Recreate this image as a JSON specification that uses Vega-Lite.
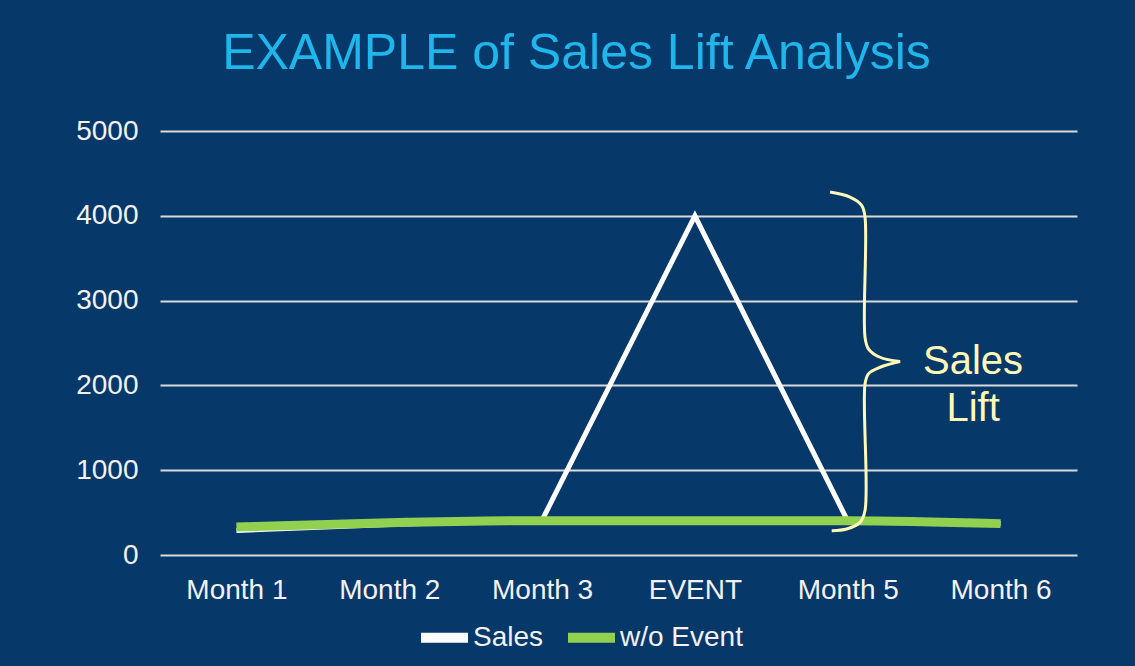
{
  "$schema": "https://vega.github.io/schema/vega-lite/v6.json",
  "width": 917,
  "height": 424,
  "autosize": {"type": "none"},
  "padding": {"left": 160, "top": 131, "right": 58, "bottom": 111},
  "background": "#07386a",
  "title": {
    "text": "EXAMPLE of Sales Lift Analysis",
    "color": "#1fb6ec",
    "fontSize": 50,
    "font": "Liberation Sans",
    "fontWeight": "normal",
    "anchor": "middle",
    "frame": "group",
    "offset": 38,
    "dx": -42
  },
  "config": {
    "view": {"stroke": null},
    "axis": {
      "labelFont": "Liberation Sans",
      "labelFontSize": 28,
      "labelColor": "#f2f2f2",
      "domain": false,
      "ticks": false,
      "tickSize": 0,
      "gridColor": "#d9d9d9",
      "gridWidth": 2
    }
  },
  "datasets": {
    "lines": [
      {"month": "Month 1", "series": "Sales", "value": 290},
      {"month": "Month 2", "series": "Sales", "value": 360},
      {"month": "Month 3", "series": "Sales", "value": 410},
      {"month": "EVENT", "series": "Sales", "value": 4000},
      {"month": "Month 5", "series": "Sales", "value": 400},
      {"month": "Month 6", "series": "Sales", "value": 370},
      {"month": "Month 1", "series": "w/o Event", "value": 330},
      {"month": "Month 2", "series": "w/o Event", "value": 380},
      {"month": "Month 3", "series": "w/o Event", "value": 405},
      {"month": "EVENT", "series": "w/o Event", "value": 405},
      {"month": "Month 5", "series": "w/o Event", "value": 405},
      {"month": "Month 6", "series": "w/o Event", "value": 370}
    ],
    "brace": [
      {"k": 1, "bx": 4.384, "value": 4280},
      {"k": 2, "bx": 4.515, "value": 4221},
      {"k": 3, "bx": 4.591, "value": 4123},
      {"k": 4, "bx": 4.613, "value": 3985},
      {"k": 5, "bx": 4.613, "value": 2568},
      {"k": 6, "bx": 4.635, "value": 2432},
      {"k": 7, "bx": 4.711, "value": 2332},
      {"k": 8, "bx": 4.842, "value": 2282},
      {"k": 9, "bx": 4.842, "value": 2282},
      {"k": 10, "bx": 4.711, "value": 2214},
      {"k": 11, "bx": 4.635, "value": 2136},
      {"k": 12, "bx": 4.613, "value": 2018},
      {"k": 13, "bx": 4.613, "value": 523},
      {"k": 14, "bx": 4.580, "value": 385},
      {"k": 15, "bx": 4.493, "value": 307},
      {"k": 16, "bx": 4.395, "value": 287}
    ],
    "note": [
      {"label": "Sales", "bx": 5.32, "value": 2140},
      {"label": "Lift", "bx": 5.32, "value": 1585}
    ]
  },
  "resolve": {"scale": {"x": "independent"}},
  "layer": [
    {
      "data": {"name": "lines"},
      "encoding": {
        "x": {
          "field": "month",
          "type": "nominal",
          "sort": ["Month 1", "Month 2", "Month 3", "EVENT", "Month 5", "Month 6"],
          "axis": {"title": null, "grid": false, "labelAngle": 0, "labelPadding": 21}
        },
        "y": {
          "field": "value",
          "type": "quantitative",
          "title": null,
          "scale": {"domain": [0, 5000]},
          "axis": {"grid": true, "values": [0, 1000, 2000, 3000, 4000, 5000], "format": "d", "labelPadding": 22}
        },
        "color": {
          "field": "series",
          "type": "nominal",
          "scale": {"domain": ["Sales", "w/o Event"], "range": ["#ffffff", "#92d050"]},
          "legend": {
            "orient": "none",
            "legendX": 256,
            "legendY": 478,
            "direction": "horizontal",
            "title": null,
            "symbolType": "stroke",
            "symbolSize": 2209,
            "symbolStrokeWidth": 10,
            "labelFontSize": 28,
            "labelColor": "#f2f2f2",
            "labelFont": "Liberation Sans",
            "labelOffset": 0,
            "columnPadding": 4
          }
        }
      },
      "layer": [
        {
          "transform": [{"filter": "datum.series === 'Sales'"}],
          "mark": {"type": "line", "strokeWidth": 5}
        },
        {
          "transform": [{"filter": "datum.series === 'w/o Event'"}],
          "mark": {"type": "line", "strokeWidth": 9, "interpolate": "monotone"}
        }
      ]
    },
    {
      "layer": [
        {
          "data": {"name": "brace"},
          "mark": {"type": "line", "interpolate": "catmull-rom", "color": "#fff9b8", "strokeWidth": 3},
          "encoding": {
            "x": {"field": "bx", "type": "quantitative", "scale": {"domain": [0, 6]}, "axis": null},
            "y": {"field": "value", "type": "quantitative", "title": null, "scale": {"domain": [0, 5000]}},
            "order": {"field": "k"}
          }
        },
        {
          "data": {"name": "note"},
          "mark": {"type": "text", "font": "Liberation Sans", "fontSize": 40, "color": "#fff9b8", "align": "center", "baseline": "alphabetic"},
          "encoding": {
            "x": {"field": "bx", "type": "quantitative", "scale": {"domain": [0, 6]}, "axis": null},
            "y": {"field": "value", "type": "quantitative", "title": null, "scale": {"domain": [0, 5000]}},
            "text": {"field": "label"}
          }
        }
      ]
    }
  ]
}
